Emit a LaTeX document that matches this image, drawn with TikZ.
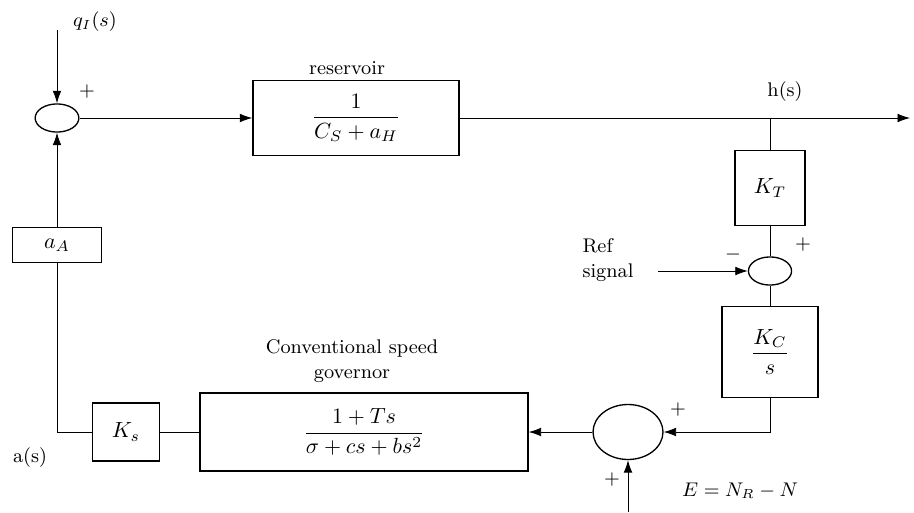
\documentclass[tikz,border=0pt]{standalone}
\usepackage{amsmath}
\usetikzlibrary{shapes.geometric, arrows.meta}
\begin{document}
\begin{tikzpicture}[>={Latex[length=2mm, width=1.4mm]}, x=0.016cm, y=-0.016cm,
  bloco/.style={draw, rectangle, inner sep=0pt, line width=0.6pt},
  soma/.style={draw, ellipse, inner sep=0pt, line width=0.6pt},
  sinal/.style={font=\small}]
\useasboundingbox (0,0) rectangle (914,512);
% somadores
\node[soma, minimum width=0.70cm, minimum height=0.45cm] (s1) at (57,118) {};
\node[soma, minimum width=0.69cm, minimum height=0.45cm] (s2) at (770,271) {};
\node[soma, minimum width=1.12cm, minimum height=0.88cm] (s3) at (628,432) {};
% blocos
\node[bloco, minimum width=3.30cm, minimum height=1.20cm] (res) at (356,118) {$\dfrac{1}{C_S + a_H}$};
\node[bloco, minimum width=1.12cm, minimum height=1.20cm] (kt) at (770,188) {$K_T$};
\node[bloco, minimum width=1.54cm, minimum height=1.46cm] (kc) at (770,352) {$\dfrac{K_C}{s}$};
\node[bloco, minimum width=5.25cm, minimum height=1.25cm] (gov) at (364,432) {$\dfrac{1+Ts}{\sigma+cs+bs^2}$};
\node[bloco, minimum width=1.07cm, minimum height=0.93cm] (ks) at (126,432) {$K_s$};
\node[bloco, minimum width=1.42cm, minimum height=0.56cm] (aa) at (57,245) {$a_A$};
% pontos livres
\coordinate (qin) at (57,30);
\coordinate (hout) at (910,118);
\coordinate (ramo) at (770,118);
\coordinate (refin) at (658,271);
\coordinate (ein) at (628,512);
% ligacoes
\draw[->] (qin) -- (s1.north);
\draw[->] (s1.east) -- (res.west);
\draw[->] (res.east) -- (hout);
\draw (ramo) -- (kt.north);
\draw (kt.south) -- (s2.north);
\draw[->] (refin) -- (s2.west);
\draw (s2.south) -- (kc.north);
\draw[->] (kc.south) |- (s3.east);
\draw[->] (ein) -- (s3.south);
\draw[->] (s3.west) -- (gov.east);
\draw (gov.west) -- (ks.east);
\draw (ks.west) -| (aa.south);
\draw[->] (aa.north) -- (s1.south);
% textos
\node[sinal] (lq) at (95,22) {$q_I(s)$};
\node[sinal] (lres) at (347,68) {reservoir};
\node[sinal] (lh) at (785,92) {h(s)};
\node[sinal, align=left] (lref) at (608,260) {Ref\\signal};
\node[sinal, align=center] (lgov) at (352,361) {Conventional speed\\governor};
\node[sinal] (la) at (30,458) {a(s)};
\node[sinal] (le) at (740,491) {$E = N_R - N$};
\node[sinal] (p1) at (87,92) {$+$};
\node[sinal] (m2) at (733,255) {$-$};
\node[sinal] (p2) at (803,245) {$+$};
\node[sinal] (p3) at (678,410) {$+$};
\node[sinal] (p4) at (612,480) {$+$};
\end{tikzpicture}
\end{document}
